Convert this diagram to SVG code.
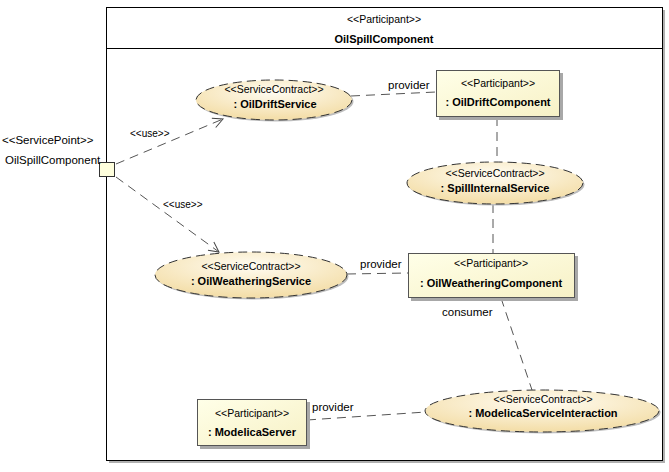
<svg xmlns="http://www.w3.org/2000/svg" width="669" height="472" viewBox="0 0 669 472">
<defs>
<radialGradient id="gE2" cx="0.5" cy="0.3" r="0.65">
<stop offset="0" stop-color="#fffcf2"/>
<stop offset="1" stop-color="#f4dfab"/>
</radialGradient>
<linearGradient id="gR" x1="0" y1="0" x2="1" y2="1">
<stop offset="0" stop-color="#ffffe8"/>
<stop offset="1" stop-color="#f7f1c6"/>
</linearGradient>
<marker id="arr" viewBox="0 0 12 12" refX="11" refY="6" markerWidth="12" markerHeight="12" markerUnits="userSpaceOnUse" orient="auto">
<path d="M1,1 L11,6 L1,11" fill="none" stroke="#444" stroke-width="1"/>
</marker>
</defs>
<style>
text{font-family:"Liberation Sans",Arial,sans-serif;font-size:11px;fill:#000}
.st{font-size:10.5px}
.nm{font-weight:bold;font-size:11px}
.lb{font-size:11.5px}
.sm{font-size:10px}
.ell{fill:url(#gE2);stroke:#333;stroke-width:1;stroke-dasharray:9,5}
.esh{fill:#bdbdbd}
.rect{fill:url(#gR);stroke:#555;stroke-width:1}
.rsh{fill:#a8a8a8}
.con{fill:none;stroke:#555;stroke-width:1;stroke-dasharray:9,6}
</style>
<rect width="669" height="472" fill="#fff"/>

<g id="frame">
<rect x="109" y="10" width="556" height="453" fill="#b0b0b0"/>
<rect x="106.5" y="7.5" width="556" height="453" fill="#fff" stroke="#000" stroke-width="1"/>
<line x1="106.5" y1="48.5" x2="662.5" y2="48.5" stroke="#000" stroke-width="1"/>
<text x="384" y="23" text-anchor="middle" class="st">&lt;&lt;Participant&gt;&gt;</text>
<text x="384" y="43" text-anchor="middle" class="nm">OilSpillComponent</text>
</g>

<g id="servicePoint">
<rect x="99.5" y="162.5" width="15" height="14" fill="#ffffdd" stroke="#333" stroke-width="1"/>
<text x="2" y="144" class="lb">&lt;&lt;ServicePoint&gt;&gt;</text>
<text x="5" y="164" class="lb">OilSpillComponent</text>
</g>

<g id="connectors">
<line class="con" x1="116" y1="164" x2="223" y2="119" marker-end="url(#arr)"/>
<line class="con" x1="116" y1="177" x2="219" y2="252" marker-end="url(#arr)"/>
<line class="con" x1="351" y1="96" x2="436" y2="92"/>
<line class="con" x1="497" y1="117" x2="497" y2="162"/>
<line class="con" x1="493" y1="204" x2="493" y2="253"/>
<line class="con" x1="347" y1="274" x2="408" y2="273"/>
<line class="con" x1="501" y1="298" x2="532" y2="390"/>
<line class="con" x1="307" y1="420" x2="426" y2="412"/>
<text x="130" y="137" class="sm">&lt;&lt;use&gt;&gt;</text>
<text x="163" y="208" class="sm">&lt;&lt;use&gt;&gt;</text>
<text x="388" y="89" class="lb">provider</text>
<text x="360" y="268" class="lb">provider</text>
<text x="442" y="316" class="lb">consumer</text>
<text x="312" y="411" class="lb">provider</text>
</g>

<g id="oilDriftService">
<ellipse class="esh" cx="275.5" cy="101.5" rx="78" ry="20"/>
<ellipse class="ell" cx="274" cy="100" rx="78" ry="20"/>
<text x="274" y="93" text-anchor="middle" class="st">&lt;&lt;ServiceContract&gt;&gt;</text>
<text x="275" y="108" text-anchor="middle" class="nm">: OilDriftService</text>
</g>

<g id="oilDriftComponent">
<rect class="rsh" x="439" y="73" width="124" height="47"/>
<rect class="rect" x="436.5" y="70.5" width="123" height="46"/>
<text x="498" y="87" text-anchor="middle" class="st">&lt;&lt;Participant&gt;&gt;</text>
<text x="498" y="106" text-anchor="middle" class="nm">: OilDriftComponent</text>
</g>

<g id="spillInternalService">
<ellipse class="esh" cx="496.5" cy="184.5" rx="88" ry="21"/>
<ellipse class="ell" cx="495" cy="183" rx="88" ry="21"/>
<text x="495" y="177" text-anchor="middle" class="st">&lt;&lt;ServiceContract&gt;&gt;</text>
<text x="495" y="192" text-anchor="middle" class="nm">: SpillInternalService</text>
</g>

<g id="oilWeatheringService">
<ellipse class="esh" cx="252.5" cy="276.5" rx="96" ry="23"/>
<ellipse class="ell" cx="251" cy="275" rx="96" ry="23"/>
<text x="251" y="270" text-anchor="middle" class="st">&lt;&lt;ServiceContract&gt;&gt;</text>
<text x="251" y="285" text-anchor="middle" class="nm">: OilWeatheringService</text>
</g>

<g id="oilWeatheringComponent">
<rect class="rsh" x="411" y="256" width="167" height="45"/>
<rect class="rect" x="408.5" y="253.5" width="166" height="44"/>
<text x="491" y="267" text-anchor="middle" class="st">&lt;&lt;Participant&gt;&gt;</text>
<text x="491" y="287" text-anchor="middle" class="nm">: OilWeatheringComponent</text>
</g>

<g id="modelicaServiceInteraction">
<ellipse class="esh" cx="543.5" cy="412.5" rx="117" ry="21"/>
<ellipse class="ell" cx="542" cy="411" rx="117" ry="21"/>
<text x="543" y="403" text-anchor="middle" class="st">&lt;&lt;ServiceContract&gt;&gt;</text>
<text x="543" y="417" text-anchor="middle" class="nm">: ModelicaServiceInteraction</text>
</g>

<g id="modelicaServer">
<rect class="rsh" x="200" y="402" width="110" height="47"/>
<rect class="rect" x="197.5" y="399.5" width="109" height="46"/>
<text x="252" y="417" text-anchor="middle" class="st">&lt;&lt;Participant&gt;&gt;</text>
<text x="252" y="436" text-anchor="middle" class="nm">: ModelicaServer</text>
</g>
</svg>
